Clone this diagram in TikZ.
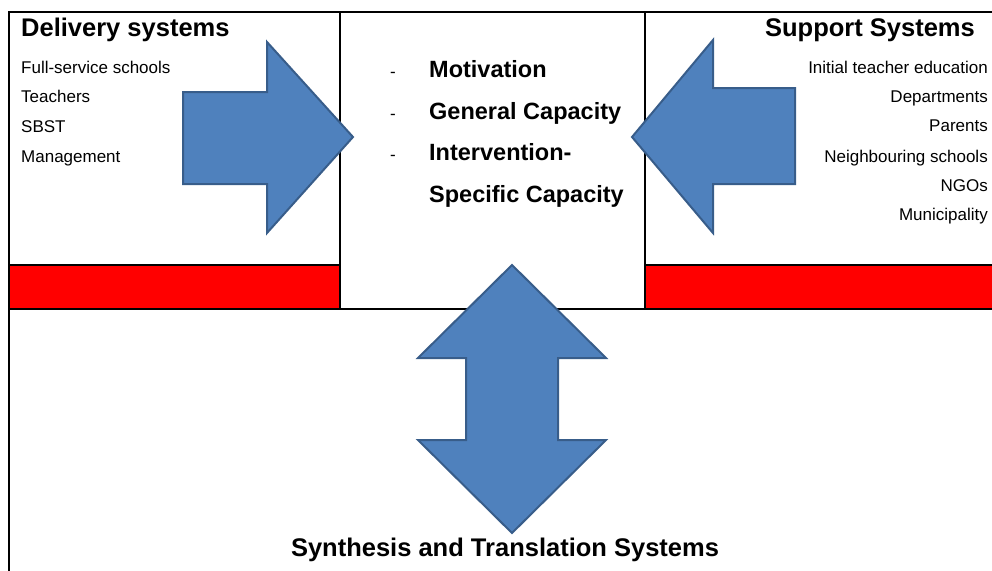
\documentclass[tikz,border=0pt]{standalone}
\usepackage{fontspec}
\setmainfont{Liberation Sans}
\definecolor{arrowfill}{HTML}{4F81BD}
\definecolor{arrowline}{HTML}{385D8A}

\begin{document}
\begin{tikzpicture}[x=1pt,y=-1pt,
  frame/.style={draw=black,line width=2pt},
  band/.style={draw=black,line width=2pt,fill=red},
  blockarrow/.style={draw=arrowline,line width=2pt,fill=arrowfill,line join=miter},
  heading/.style={font=\fontsize{25.5}{30}\selectfont\bfseries,inner sep=0pt},
  item/.style={font=\fontsize{17}{20}\selectfont,inner sep=0pt},
  capacity/.style={font=\fontsize{23.5}{28}\selectfont\bfseries,inner sep=0pt,anchor=base west}]
\useasboundingbox (0,0) rectangle (992,570);
% the four system boxes
\draw[frame] (9,309) rectangle (1000,600);
\draw[frame] (9,12) rectangle (340,309);
\draw[frame] (340,12) rectangle (645,309);
\draw[frame] (645,12) rectangle (1000,309);
\draw[band] (9,265) rectangle (340,309);
\draw[band] (645,265) rectangle (1000,309);
% block arrows
\draw[blockarrow] (183,92) -- (267,92) -- (267,42) -- (353,137) -- (267,233) -- (267,184) -- (183,184) -- cycle;
\draw[blockarrow] (795,88) -- (713,88) -- (713,40) -- (632,137) -- (713,233) -- (713,184) -- (795,184) -- cycle;
\draw[blockarrow] (512,265) -- (606,358) -- (558,358) -- (558,440) -- (606,440) -- (512,533) -- (418,440) -- (466,440) -- (466,358) -- (418,358) -- cycle;
% delivery systems
\node[heading,anchor=base west] (delivery) at (21,36) {Delivery systems};
\node[item,anchor=base west] (schools) at (21,73) {Full-service schools};
\node[item,anchor=base west] (teachers) at (21,102) {Teachers};
\node[item,anchor=base west] (sbst) at (21,132) {SBST};
\node[item,anchor=base west] (management) at (21,162) {Management};
% support systems
\node[heading,anchor=base east] (support) at (975,36) {Support Systems};
\node[item,anchor=base east] (ite) at (988,73) {Initial teacher education};
\node[item,anchor=base east] (departments) at (988,102) {Departments};
\node[item,anchor=base east] (parents) at (988,131) {Parents};
\node[item,anchor=base east] (neighbours) at (988,162) {Neighbouring schools};
\node[item,anchor=base east] (ngos) at (988,191) {NGOs};
\node[item,anchor=base east] (municipality) at (988,220) {Municipality};
% capacities in the middle
\node[item,anchor=base] (dash1) at (393,77) {-};
\node[item,anchor=base] (dash2) at (393,119) {-};
\node[item,anchor=base] (dash3) at (393,160) {-};
\node[capacity] (motivation) at (429,77) {Motivation};
\node[capacity] (general) at (429,119) {General Capacity};
\node[capacity] (intervention) at (429,160) {Intervention-};
\node[capacity] (specific) at (429,202) {Specific Capacity};
% synthesis and translation
\node[heading,anchor=base] (synthesis) at (505,556) {Synthesis and Translation Systems};
\end{tikzpicture}
\end{document}
